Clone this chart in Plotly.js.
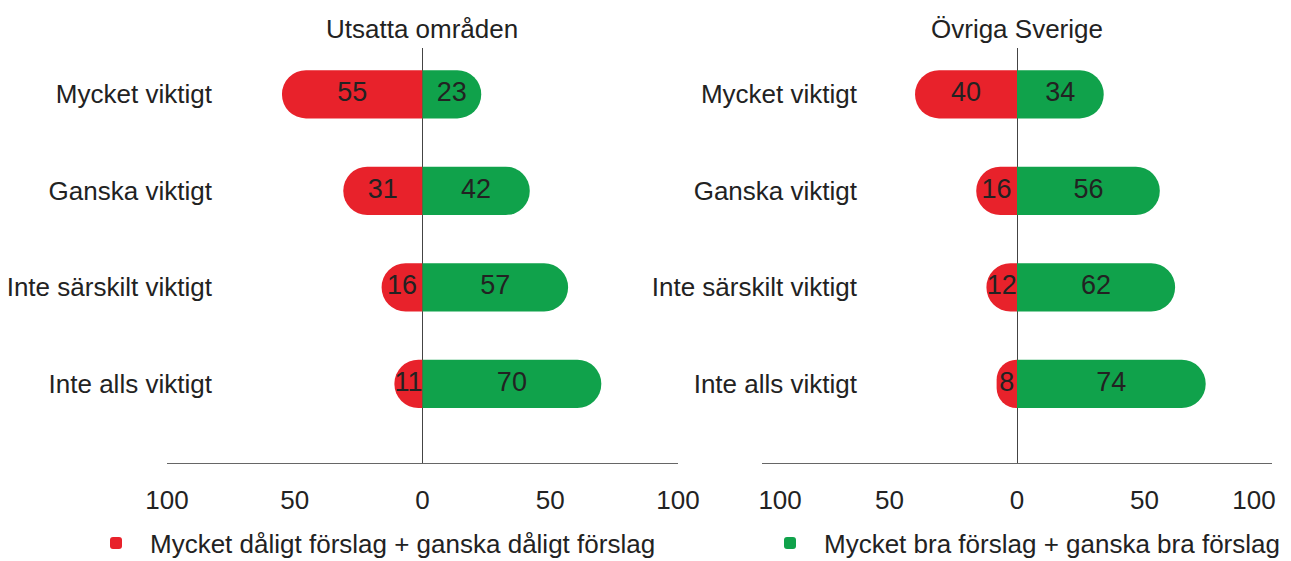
<!DOCTYPE html>
<html>
<head>
<meta charset="utf-8">
<script src="https://cdn.plot.ly/plotly-3.0.1.min.js"></script>
<style>
  html, body { margin: 0; padding: 0; background: #fff; }
  #container { width: 1291px; height: 561px; }
</style>
</head>
<body>
<div id="container"></div>
<script>
const categories = ["Mycket viktigt", "Ganska viktigt", "Inte särskilt viktigt", "Inte alls viktigt"];
const panelTitles = ["Utsatta områden", "Övriga Sverige"];
const seriesNames = ["Mycket dåligt förslag + ganska dåligt förslag", "Mycket bra förslag + ganska bra förslag"];

const badUtsatta = [55, 31, 16, 11];
const goodUtsatta = [23, 42, 57, 70];
const badOvriga = [40, 16, 12, 8];
const goodOvriga = [34, 56, 62, 74];

const tickVals = [-100, -50, 0, 50, 100];
const tickText = ["100", "50", "0", "50", "100"];
// right panel: the outer labels are pulled in a bit, like in the original
const pad = "\u00a0\u00a0\u00a0\u00a0\u00a0";
const tickTextRight = tickText.map((t, i) => i === 0 ? pad + t : i === tickText.length - 1 ? t + pad : t);

const red = "#e8222b";
const green = "#10a24b";
const font = "Liberation Sans, Arial, sans-serif";
const ink = "#222";

function barTrace(vals, negative, color, name, xa, ya, legend) {
    return {
        type: "bar",
        orientation: "h",
        y: categories,
        x: vals.map(v => negative ? -v : v),
        marker: { color: color, cornerradius: 24 },
        name: name,
        legend: legend,
        showlegend: legend !== null,
        xaxis: xa,
        yaxis: ya,
        hoverinfo: "skip"
    };
}

// value labels sit in the middle of each bar
function labelTrace(vals, negative, xa, ya) {
    return {
        type: "scatter",
        mode: "text",
        y: categories,
        x: vals.map(v => negative ? -v / 2 : v / 2),
        text: vals.map(v => String(v)),
        textposition: "middle center",
        textfont: { family: font, size: 27, color: ink },
        cliponaxis: false,
        showlegend: false,
        xaxis: xa,
        yaxis: ya,
        hoverinfo: "skip"
    };
}

const traces = [
    barTrace(badUtsatta, true, red, seriesNames[0], "x", "y", "legend"),
    barTrace(goodUtsatta, false, green, seriesNames[1], "x", "y", "legend2"),
    barTrace(badOvriga, true, red, seriesNames[0], "x2", "y2", null),
    barTrace(goodOvriga, false, green, seriesNames[1], "x2", "y2", null),
    labelTrace(badUtsatta, true, "x", "y"),
    labelTrace(goodUtsatta, false, "x", "y"),
    labelTrace(badOvriga, true, "x2", "y2"),
    labelTrace(goodOvriga, false, "x2", "y2")
];

function xAxis(domain, anchor, ticks) {
    return {
        domain: domain,
        anchor: anchor,
        range: [-100, 100],
        tickvals: tickVals,
        ticktext: ticks,
        ticks: "outside",
        ticklen: 14,
        tickcolor: "rgba(0,0,0,0)",
        ticklabeloverflow: "allow",
        showgrid: false,
        showline: true,
        linecolor: "#666",
        linewidth: 1,
        zeroline: true,
        zerolinecolor: "#444",
        zerolinewidth: 1,
        fixedrange: true,
        tickfont: { family: font, size: 26, color: ink }
    };
}

function yAxis(pos) {
    return {
        type: "category",
        categoryorder: "array",
        categoryarray: categories,
        range: [3.82, -0.48],
        anchor: "free",
        position: pos,
        showline: false,
        showgrid: false,
        zeroline: false,
        ticks: "",
        fixedrange: true,
        tickfont: { family: font, size: 26, color: ink }
    };
}

function legendAt(x) {
    return {
        orientation: "h",
        xref: "container",
        yref: "container",
        x: x,
        xanchor: "left",
        y: 0.032,
        yanchor: "middle",
        itemwidth: 58,
        font: { family: font, size: 26, color: ink }
    };
}

const layout = {
    width: 1291,
    height: 561,
    margin: { t: 48, r: 19, b: 98, l: 167 },
    paper_bgcolor: "#fff",
    plot_bgcolor: "#fff",
    barmode: "relative",
    bargap: 0.5,
    font: { family: font, size: 26, color: ink },
    xaxis: xAxis([0, 0.4624], "y", tickText),
    yaxis: yAxis(0.0406),
    xaxis2: xAxis([0.5385, 1], "y2", tickTextRight),
    yaxis2: yAxis(0.6244),
    annotations: panelTitles.map((t, i) => ({
        text: t,
        xref: i === 0 ? "x" : "x2",
        x: 0,
        yref: "paper",
        y: 1,
        yanchor: "bottom",
        yshift: 2,
        showarrow: false,
        font: { family: font, size: 26, color: ink }
    })),
    legend: legendAt(82 / 1291),
    legend2: legendAt(756 / 1291)
};

Plotly.newPlot("container", traces, layout, { displayModeBar: false });
</script>
</body>
</html>
